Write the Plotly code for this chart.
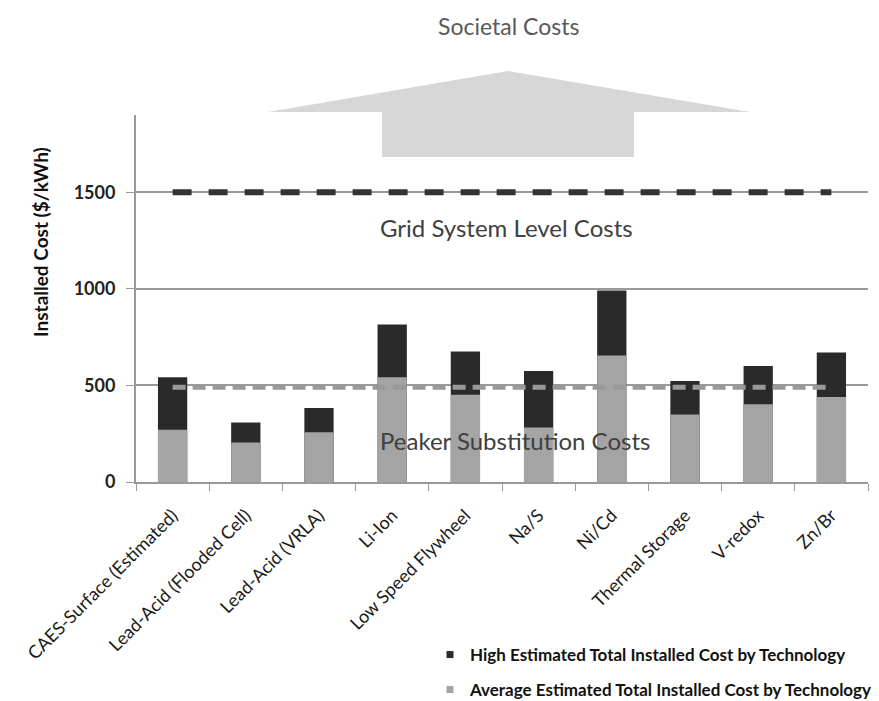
import plotly.graph_objects as go

categories = ["CAES-Surface (Estimated)", "Lead-Acid (Flooded Cell)", "Lead-Acid (VRLA)",
              "Li-Ion", "Low Speed Flywheel", "Na/S", "Ni/Cd", "Thermal Storage",
              "V-redox", "Zn/Br"]
average_cost = [270, 205, 258, 542, 452, 282, 655, 350, 402, 440]
high_cost = [542, 308, 383, 815, 675, 575, 992, 523, 601, 670]
grid_level = [1500] * len(categories)
peaker_level = [490] * len(categories)
y_ticks = [0, 500, 1000, 1500]

FONT = "Lato"
W, H = 879, 701
L, R, T, B = 136, 11, 115, 219
PW = W - L - R
PH = H - T - B
Y_MAX = 1900


def px_x(x):
    return (x - L) / PW


def px_y(y):
    return (H - B - y) / PH


fig = go.Figure()
fig.add_trace(go.Bar(x=categories, y=high_cost, marker=dict(color="#2a2a2a", line=dict(width=0)),
                     name="High Estimated Total Installed Cost by Technology", showlegend=False))
fig.add_trace(go.Bar(x=categories, y=average_cost, marker=dict(color="#a4a4a4", line=dict(width=0)),
                     name="Average Estimated Total Installed Cost by Technology", showlegend=False))
fig.add_trace(go.Scatter(x=categories, y=grid_level, mode="lines",
                         line=dict(color="#333333", width=6, dash="19px,17px"), showlegend=False,
                         hoverinfo="skip"))
fig.add_trace(go.Scatter(x=categories, y=peaker_level, mode="lines",
                         line=dict(color="#999999", width=5, dash="13px,7px"), showlegend=False,
                         hoverinfo="skip"))
# legend entries
fig.add_trace(go.Scatter(x=[None], y=[None], mode="markers",
                         marker=dict(symbol="square", size=7, color="#2a2a2a"),
                         name="High Estimated Total Installed Cost by Technology", legend="legend"))
fig.add_trace(go.Scatter(x=[None], y=[None], mode="markers",
                         marker=dict(symbol="square", size=7, color="#a4a4a4"),
                         name="Average Estimated Total Installed Cost by Technology", legend="legend2"))

# Societal cost arrow
ax = [268, 508, 750, 634, 634, 382, 382]
ay = [112, 71, 112, 112, 157, 157, 112]
path = "M " + " L ".join(f"{px_x(x):.4f},{px_y(y):.4f}" for x, y in zip(ax, ay)) + " Z"
fig.add_shape(type="path", path=path, xref="paper", yref="paper",
              fillcolor="#d7d7d7", line=dict(width=0), layer="below")


def label(text, x, y, size, color, angle=0, weight="normal"):
    fig.add_annotation(text=text, x=px_x(x), y=px_y(y), xref="paper", yref="paper",
                       xanchor="center", yanchor="middle", showarrow=False, textangle=angle,
                       font=dict(family=FONT, size=size, color=color, weight=weight))


label("Societal Costs", 509, 26, 23, "#595959")
label("Grid System Level Costs", 506, 227, 24, "#404040")
label("Peaker Substitution Costs", 515, 440, 24, "#404040")
label("Installed Cost ($/kWh)", 40, 242, 19, "#111111", angle=-90, weight="bold")

leg_font = dict(family=FONT, size=17, color="#111111", weight="bold")
fig.update_layout(
    width=W, height=H,
    margin=dict(l=L, r=R, t=T, b=B, autoexpand=False),
    paper_bgcolor="white", plot_bgcolor="white",
    barmode="overlay", bargap=0.6,
    font=dict(family=FONT, color="#222222"),
    legend=dict(x=px_x(430), xanchor="left", y=px_y(655), yanchor="middle",
                font=leg_font, bgcolor="rgba(0,0,0,0)", itemwidth=30),
    legend2=dict(x=px_x(430), xanchor="left", y=px_y(690), yanchor="middle",
                 font=leg_font, bgcolor="rgba(0,0,0,0)", itemwidth=30),
    xaxis=dict(type="category", showline=True, linecolor="#999999", linewidth=2,
               ticks="outside", ticklen=7, tickcolor="#999999", tickwidth=1, tickson="boundaries",
               tickangle=-45, ticklabelstandoff=14,
               tickfont=dict(family=FONT, size=18, color="#1a1a1a"),
               showgrid=False, zeroline=False, range=[-0.5, 9.5]),
    yaxis=dict(range=[0, Y_MAX], tickvals=y_ticks, showline=True, linecolor="#999999", linewidth=2,
               ticks="outside", ticklen=8, tickcolor="#999999", tickwidth=1,
               ticklabelstandoff=7,
               tickfont=dict(family=FONT, size=18, color="#222222", weight="bold"),
               showgrid=True, gridcolor="#9a9a9a", gridwidth=1.5, zeroline=False),
)

fig.write_html("out.html")
